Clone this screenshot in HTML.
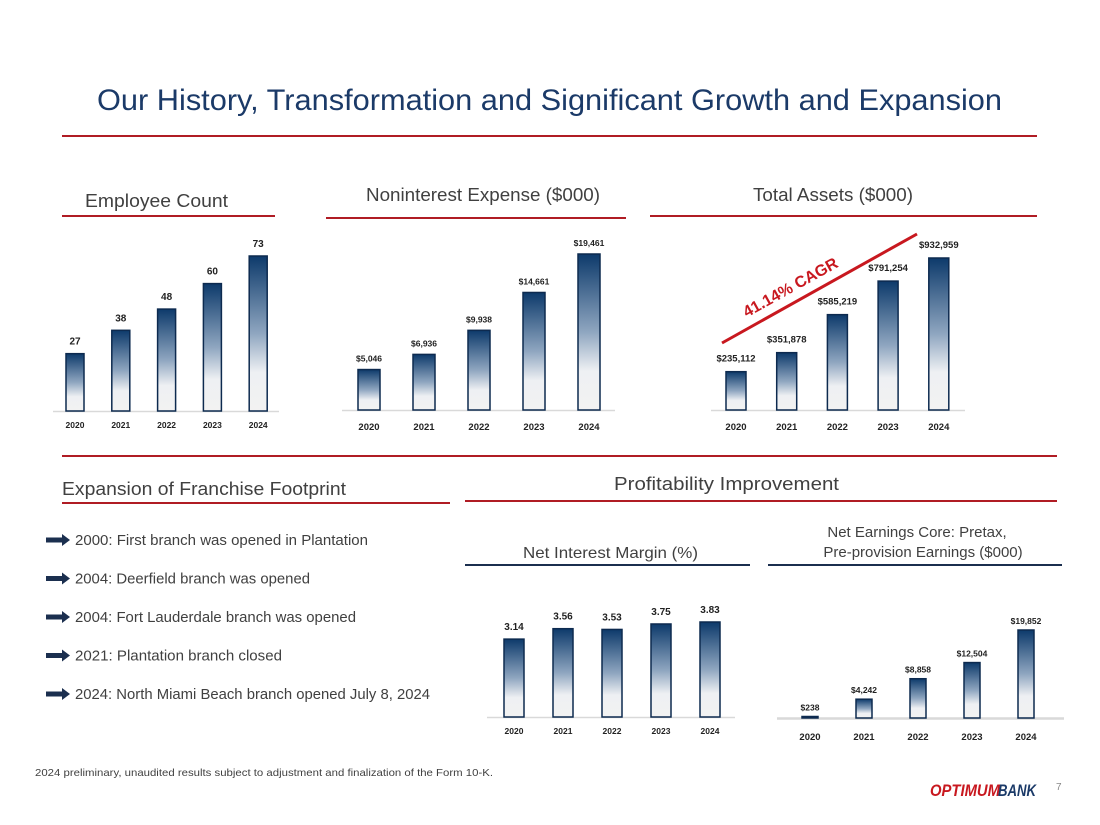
<!DOCTYPE html>
<html><head><meta charset="utf-8"><style>
html,body{margin:0;padding:0;background:#fff}
svg{display:block;font-family:"Liberation Sans",sans-serif}
</style></head><body>
<svg id="slide" width="1100" height="825" viewBox="0 0 1100 825" xmlns="http://www.w3.org/2000/svg">
<defs>
<linearGradient id="barGrad" x1="0" y1="0" x2="0" y2="1">
<stop offset="0" stop-color="#0d3a6b"/><stop offset="0.5" stop-color="#8fa6c0"/><stop offset="0.75" stop-color="#eef0f3"/><stop offset="1" stop-color="#f2f2f2"/>
</linearGradient>
</defs>
<text x="97" y="110" font-size="30" fill="#1b3a68" textLength="905" lengthAdjust="spacingAndGlyphs">Our History, Transformation and Significant Growth and Expansion</text>
<rect x="62" y="135" width="975" height="2" fill="#b01c24"/>

<text x="85" y="207" font-size="18" fill="#404040" textLength="143" lengthAdjust="spacingAndGlyphs">Employee Count</text>
<rect x="62" y="215" width="213" height="2" fill="#b01c24"/>
<text x="366" y="201" font-size="18" fill="#404040" textLength="234" lengthAdjust="spacingAndGlyphs">Noninterest Expense ($000)</text>
<rect x="326" y="217" width="300" height="2" fill="#b01c24"/>
<text x="753" y="201" font-size="18" fill="#404040" textLength="160" lengthAdjust="spacingAndGlyphs">Total Assets ($000)</text>
<rect x="650" y="215" width="387" height="2" fill="#b01c24"/>

<rect x="62" y="455" width="995" height="2" fill="#b01c24"/>
<text x="62" y="495" font-size="18" fill="#404040" textLength="284" lengthAdjust="spacingAndGlyphs">Expansion of Franchise Footprint</text>
<rect x="62" y="502" width="388" height="2" fill="#b01c24"/>
<text x="614" y="490" font-size="18" fill="#404040" textLength="225" lengthAdjust="spacingAndGlyphs">Profitability Improvement</text>
<rect x="465" y="500" width="592" height="2" fill="#b01c24"/>

<text x="523" y="558" font-size="16" fill="#404040" textLength="175" lengthAdjust="spacingAndGlyphs">Net Interest Margin (%)</text>
<rect x="465" y="564" width="285" height="2" fill="#1b2f4f"/>
<text x="917" y="537" font-size="15" fill="#404040" text-anchor="middle">Net Earnings Core: Pretax,</text>
<text x="923" y="557" font-size="15" fill="#404040" text-anchor="middle">Pre-provision Earnings ($000)</text>
<rect x="768" y="564" width="294" height="2" fill="#1b2f4f"/>

<g id="bullets"></g>

<line x1="722" y1="343" x2="917" y2="234" stroke="#c8181f" stroke-width="3"/>
<text x="0" y="0" font-size="16" font-weight="bold" fill="#c8181f" text-anchor="middle" transform="translate(793,292) rotate(-29)">41.14% CAGR</text>

<g id="charts"></g>

<text x="35" y="776" font-size="10.5" fill="#404040" textLength="458" lengthAdjust="spacingAndGlyphs">2024 preliminary, unaudited results subject to adjustment and finalization of the Form 10-K.</text>
<text x="930" y="796" font-size="17" font-weight="bold" font-style="italic" fill="#c8181f" textLength="70" lengthAdjust="spacingAndGlyphs">OPTIMUM</text>
<text x="998" y="796" font-size="17" font-weight="bold" font-style="italic" fill="#1b3a68" textLength="38" lengthAdjust="spacingAndGlyphs">BANK</text>
<text x="1056" y="790" font-size="10" fill="#888">7</text>
</svg>
<script>
const years = ["2020","2021","2022","2023","2024"];
const employeeValues = [27,38,48,60,73];
const employeeLabels = ["27","38","48","60","73"];
const expenseValues = [5046,6936,9938,14661,19461];
const expenseLabels = ["$5,046","$6,936","$9,938","$14,661","$19,461"];
const assetValues = [235112,351878,585219,791254,932959];
const assetLabels = ["$235,112","$351,878","$585,219","$791,254","$932,959"];
const nimValues = [3.14,3.56,3.53,3.75,3.83];
const nimLabels = ["3.14","3.56","3.53","3.75","3.83"];
const earningsValues = [238,4242,8858,12504,19852];
const earningsLabels = ["$238","$4,242","$8,858","$12,504","$19,852"];
const bulletItems = ["2000: First branch was opened in Plantation","2004: Deerfield branch was opened","2004: Fort Lauderdale branch was opened","2021: Plantation branch closed","2024: North Miami Beach branch opened July 8, 2024"];
const bulletWidths = [293,235,281,207,355];

const NS="http://www.w3.org/2000/svg";
function mk(tag, attrs, parent){const e=document.createElementNS(NS,tag);for(const k in attrs)e.setAttribute(k,attrs[k]);parent.appendChild(e);return e;}

const bl=document.getElementById('bullets');
bulletItems.forEach((t,i)=>{
  const y=540+i*38.5;
  const a=mk('path',{d:`M46 ${y-2.5} h16 v-3.5 l8 6 l-8 6 v-3.5 h-16 z`,fill:'#1b2f4f'},bl);
  
  
  const tx=mk('text',{x:75,y:y+5,'font-size':14.5,fill:'#404040',textLength:bulletWidths[i],lengthAdjust:'spacingAndGlyphs'},bl);
  tx.textContent=t;
  
  
});

function chart(name, values, labels, cfg){
  const g=mk('g',{},document.getElementById('charts'));
  
  
  const maxV=Math.max(...values);
  const yScale=v=>cfg.base - v/maxV*cfg.maxH;
  const xScale=i=>cfg.x0 + i*cfg.step;
  const ax=mk('line',{x1:cfg.ax1,x2:cfg.ax2,y1:cfg.base+0.5,y2:cfg.base+0.5,stroke:'#d9d9d9','stroke-width':cfg.axW||1.5},g);
  
  
  values.forEach((v,i)=>{
    const cx=xScale(i), top=yScale(v), h=Math.max(cfg.base-top,1.5);
    const r=mk('rect',{x:cx-cfg.w/2,y:cfg.base-h,width:cfg.w,height:h,fill:'url(#barGrad)',stroke:'#0d2a4f','stroke-width':1.5},g);
    
    
    const lb=mk('text',{x:cx,y:cfg.base-h-cfg.lg,'font-size':cfg.fs,'text-anchor':'middle',fill:'#222','font-weight':'bold'},g);
    lb.textContent=labels[i];
    
    
    const tk=mk('text',{x:cx,y:cfg.base+cfg.tky,'font-size':cfg.tfs,'text-anchor':'middle',fill:'#222','font-weight':'bold'},g);
    tk.textContent=years[i];
    
    
  });
}
chart('employee-count-chart',employeeValues,employeeLabels,{base:411,maxH:155,x0:75,step:45.8,w:18,ax1:53,ax2:279,lg:9,fs:10,tky:17,tfs:8.5});
chart('noninterest-expense-chart',expenseValues,expenseLabels,{base:410,maxH:156,x0:369,step:55,w:22,ax1:342,ax2:615,lg:8,fs:8.5,tky:20,tfs:9.5});
chart('total-assets-chart',assetValues,assetLabels,{base:410,maxH:152,x0:736,step:50.7,w:20,ax1:711,ax2:965,lg:10,fs:9.5,tky:20,tfs:9.5});
chart('net-interest-margin-chart',nimValues,nimLabels,{base:717,maxH:95,x0:514,step:49,w:20,ax1:487,ax2:735,lg:9,fs:10,tky:17,tfs:8.5});
chart('net-earnings-chart',earningsValues,earningsLabels,{base:718,maxH:88,x0:810,step:54,w:16,ax1:777,ax2:1064,lg:6,fs:8.5,tky:22,tfs:9.5,axW:2.5});
</script>
</body></html>
